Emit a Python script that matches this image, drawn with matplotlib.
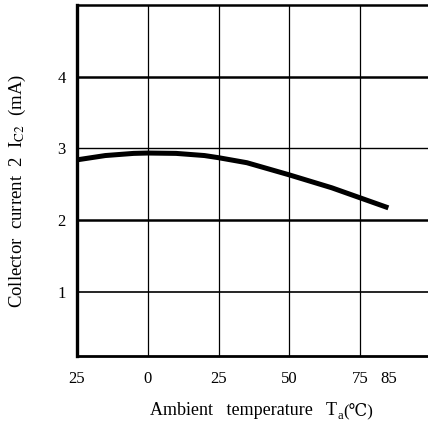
import numpy as np
import matplotlib
matplotlib.use("Agg")
import matplotlib.pyplot as plt

plt.rcParams['font.family'] = ['Liberation Serif', 'DejaVu Serif', 'Noto Sans CJK SC']
plt.rcParams['mathtext.fontset'] = 'stix'

# curve
temp = [-25, -15, -5, 0, 10, 20, 25, 35, 50, 65, 75, 85]
ic2 = [2.84, 2.90, 2.93, 2.935, 2.93, 2.90, 2.87, 2.80, 2.63, 2.45, 2.31, 2.17]

xticks = [-25, 0, 25, 50, 75, 85]
xticklabels = ['25', '0', '25', '50', '75', '85']
yticks = [1, 2, 3, 4]

fig = plt.figure(figsize=(4.28, 4.23), dpi=100)
ax = fig.add_axes([0.18, 0.158, 0.82, 0.83])

# grid
for v in [0, 25, 50, 75]:
    ax.axvline(v, color='black', lw=0.9, zorder=1)
for v, w in zip(yticks, [1.2, 1.8, 1.0, 1.8]):
    ax.axhline(v, color='black', lw=w, zorder=1)

ax.plot(temp, ic2, color='black', lw=3.6, solid_capstyle='butt', zorder=3)

ax.set_xlim(-25, 99)
ax.set_ylim(0.1, 5)
ax.set_xticks(xticks)
ax.set_xticklabels(xticklabels)
ax.set_yticks(yticks)
ax.tick_params(length=0, labelsize=12)
ax.tick_params(axis='x', pad=11)
ax.tick_params(axis='y', pad=8)

ax.spines['right'].set_visible(False)
ax.spines['left'].set_linewidth(2.4)
ax.spines['bottom'].set_linewidth(2.0)
ax.spines['top'].set_linewidth(1.8)

ax.set_ylabel('Collector  current  2  I$_{\\rm C2}$  (mA)', fontsize=13.5)
ax.yaxis.set_label_coords(-0.14, 0.47)

# x label in pieces so the degree sign can fall back to another font
base_y = 0.018
t1 = fig.text(0.35, base_y, 'Ambient   temperature   T', fontsize=13, va='baseline')
fig.canvas.draw()
r = fig.canvas.get_renderer()
x1 = t1.get_window_extent(r).x1 / fig.bbox.width
t2 = fig.text(x1 + 0.001, base_y - 0.009, 'a', fontsize=9, va='baseline')
fig.canvas.draw()
x2 = t2.get_window_extent(r).x1 / fig.bbox.width
fig.text(x2 + 0.002, base_y, '(\u2103)', fontsize=12, va='baseline')

fig.savefig('out.png', dpi=100)
